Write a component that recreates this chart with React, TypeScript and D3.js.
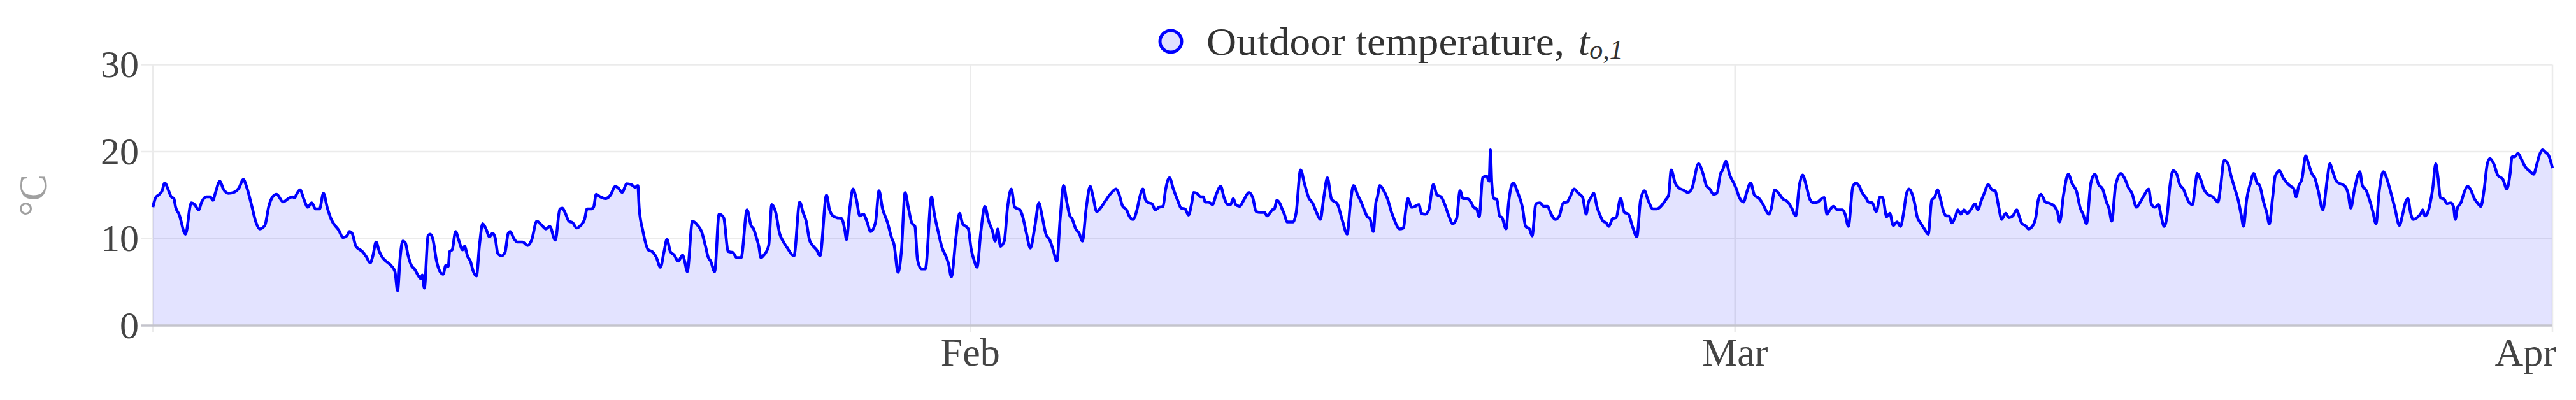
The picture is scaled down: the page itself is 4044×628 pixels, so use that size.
import React, { useEffect } from "react";
import * as d3 from "d3";

// ---- data ----
const START_UTC = Date.UTC(2020, 0, 1);
const END_UTC = Date.UTC(2020, 3, 1);
const Y_TICKS = [0, 10, 20, 30];
const X_GRID_DATES = [Date.UTC(2020, 0, 1), Date.UTC(2020, 1, 1), Date.UTC(2020, 2, 1), Date.UTC(2020, 3, 1)];
const X_LABEL_DATES = [Date.UTC(2020, 1, 1), Date.UTC(2020, 2, 1), Date.UTC(2020, 3, 1)];
const Y_TITLE = "°C";
const LEGEND_NAME = "Outdoor temperature,";
const LEGEND_SYMBOL = "t";
const LEGEND_SUB = "o,1";

// [hours since 2020-01-01 00:00, outdoor temperature °C]
const READINGS: [number, number][] = [
  [0, 13.6], [2.5, 14.7], [6.0, 15.1], [8.4, 15.5], [10.8, 16.4], [14.3, 15.5], [16.7, 14.8], [19.1, 14.6], [20.7, 13.6], [23.8, 12.8],
  [29.7, 10.5], [34.9, 14.1], [38.0, 13.9], [41.6, 13.3], [44.4, 14.2], [48.7, 14.8], [52.2, 14.8], [54.6, 14.4], [57.0, 15.3], [61.0, 16.6],
  [64.1, 15.7], [68.8, 15.2], [73.5, 15.3], [78.3, 15.8], [82.3, 16.8], [85.4, 15.9], [90.1, 13.7], [93.7, 11.9], [97.2, 11.1], [101.9, 11.5],
  [105.5, 13.7], [109.0, 14.8], [112.6, 15.1], [118.5, 14.2], [123.3, 14.6], [126.8, 14.8], [129.2, 14.7], [130.4, 15.0], [133.9, 15.6], [137.5, 14.5],
  [141.0, 13.6], [144.6, 14.1], [148.1, 13.4], [151.7, 13.4], [155.2, 15.2], [158.8, 13.5], [162.3, 12.2], [169.4, 10.9], [173.0, 10.1], [176.5, 10.3],
  [178.9, 10.8], [181.3, 10.6], [184.8, 9.1], [190.7, 8.5], [194.3, 7.9], [197.8, 7.2], [200.2, 8.0], [203.1, 9.6], [206.1, 8.5], [208.5, 7.9],
  [212.1, 7.4], [216.8, 6.9], [220.3, 6.2], [222.7, 4.0], [225.1, 7.9], [227.4, 9.7], [229.8, 9.5], [232.2, 8.1], [235.7, 6.8], [238.1, 6.5],
  [241.7, 5.7], [244.0, 5.4], [245.2, 5.8], [247.1, 4.3], [250.4, 10.3], [252.3, 10.5], [254.7, 10.0], [258.2, 7.4], [261.8, 6.1], [264.2, 5.9],
  [266.5, 6.9], [268.9, 6.8], [270.1, 8.5], [272.4, 8.7], [275.5, 10.8], [278.4, 9.8], [281.9, 8.7], [283.6, 9.1], [286.6, 7.9], [289.0, 7.4],
  [291.4, 6.3], [294.5, 5.7], [297.3, 9.3], [300.1, 11.7], [303.2, 11.1], [306.3, 10.2], [309.1, 10.6], [311.5, 10.1], [313.9, 8.3], [317.4, 8.0],
  [320.5, 8.4], [323.4, 10.6], [325.3, 10.8], [328.1, 10.1], [331.6, 9.6], [336.4, 9.6], [341.1, 9.2], [344.7, 9.8], [349.4, 12.0], [354.1, 11.5],
  [357.7, 11.1], [361.2, 11.4], [366.3, 9.8], [370.4, 13.4], [372.7, 13.5], [375.1, 13.0], [378.6, 12.0], [382.2, 11.8], [385.7, 11.2], [389.3, 11.5],
  [392.9, 12.2], [395.2, 13.4], [398.8, 13.4], [401.1, 13.6], [403.5, 15.1], [407.1, 14.8], [411.8, 14.6], [416.5, 15.0], [420.8, 16.0], [423.6, 15.8],
  [427.2, 15.3], [431.2, 16.3], [435.5, 16.2], [439.0, 15.9], [441.4, 16.1], [442.6, 13.5], [446.1, 10.8], [450.9, 8.7], [454.4, 8.5], [458.0, 7.9],
  [462.0, 6.7], [465.1, 8.4], [467.9, 9.9], [471.0, 8.5], [474.5, 8.1], [478.1, 7.4], [482.1, 8.1], [484.0, 7.4], [486.4, 6.2], [491.1, 12.0],
  [495.9, 11.5], [499.4, 10.8], [503.0, 9.1], [505.3, 7.9], [507.7, 7.4], [511.3, 6.2], [515.3, 12.8], [519.5, 12.4], [523.6, 8.5], [527.8, 8.4],
  [531.4, 7.8], [535.4, 7.8], [540.8, 13.3], [544.4, 11.5], [546.8, 11.1], [549.1, 10.2], [551.5, 9.1], [553.4, 7.8], [556.2, 8.1], [560.5, 9.2],
  [563.3, 13.9], [566.9, 13.0], [570.4, 10.6], [574.0, 9.6], [577.5, 8.9], [583.5, 8.0], [588.7, 14.2], [591.8, 13.0], [594.6, 12.0], [597.7, 9.8],
  [601.2, 9.1], [604.1, 8.7], [607.2, 8.0], [613.1, 15.0], [615.9, 13.3], [619.0, 12.6], [622.5, 12.4], [626.8, 12.3], [629.6, 11.1], [631.3, 9.9],
  [634.4, 13.6], [637.2, 15.7], [640.3, 14.5], [643.4, 12.6], [646.7, 12.8], [649.8, 12.0], [653.3, 10.8], [657.6, 11.8], [660.9, 15.5], [664.0, 13.5],
  [668.7, 11.8], [672.3, 10.1], [674.6, 9.3], [678.2, 6.1], [681.3, 8.6], [684.6, 15.3], [687.7, 13.5], [690.7, 11.8], [693.6, 11.4], [695.9, 7.6],
  [699.5, 6.5], [703.1, 6.5], [708.7, 14.8], [711.3, 12.8], [714.9, 10.7], [718.4, 8.9], [722.0, 7.9], [724.4, 7.0], [726.7, 5.6], [731.1, 10.3],
  [734.2, 12.9], [737.0, 11.7], [739.9, 11.4], [742.2, 11.1], [744.6, 8.9], [747.7, 7.4], [750.1, 6.7], [753.6, 10.8], [757.2, 13.7], [760.7, 12.0],
  [764.3, 10.8], [766.6, 9.7], [769.0, 11.1], [771.4, 9.1], [774.9, 9.7], [777.8, 13.5], [781.3, 15.7], [784.4, 13.6], [789.1, 13.3], [791.5, 12.6],
  [795.1, 10.6], [798.6, 8.9], [802.9, 11.5], [806.4, 14.1], [809.3, 12.6], [812.8, 10.5], [816.4, 9.8], [819.4, 8.7], [822.8, 7.4], [825.8, 12.3],
  [828.9, 16.1], [831.8, 14.2], [834.6, 12.6], [836.5, 12.3], [840.0, 11.1], [843.1, 10.6], [846.0, 9.7], [849.5, 13.5], [853.1, 16.0], [855.9, 14.7],
  [859.0, 13.1], [862.5, 13.5], [867.3, 14.4], [872.0, 15.2], [876.8, 15.7], [879.1, 15.2], [882.7, 13.7], [886.2, 13.3], [888.6, 12.6], [892.1, 12.2],
  [895.7, 13.3], [898.1, 14.7], [901.1, 15.7], [903.3, 14.5], [906.3, 14.1], [909.4, 14.0], [912.3, 13.3], [915.8, 13.6], [919.4, 13.7], [921.7, 15.6],
  [925.3, 17.0], [928.8, 15.7], [932.4, 14.5], [935.9, 13.5], [939.5, 13.4], [942.6, 12.7], [945.4, 14.0], [947.3, 15.3], [950.2, 15.2], [953.7, 14.8],
  [956.1, 14.8], [957.7, 14.2], [960.8, 14.2], [964.4, 13.9], [967.9, 15.1], [971.9, 16.0], [975.0, 14.7], [978.6, 13.9], [980.9, 13.9], [983.3, 14.6],
  [985.7, 13.9], [989.2, 13.7], [992.8, 14.4], [997.5, 15.3], [1001.1, 14.7], [1004.1, 13.1], [1008.2, 13.0], [1011.7, 13.0], [1014.1, 12.6], [1016.5, 12.9],
  [1018.8, 13.3], [1020.7, 13.4], [1023.1, 14.4], [1025.9, 14.0], [1027.8, 13.4], [1029.5, 12.9], [1032.6, 11.9], [1037.8, 11.9], [1040.6, 13.0], [1044.6, 17.9],
  [1048.4, 16.2], [1052.0, 14.7], [1055.5, 14.1], [1059.1, 13.0], [1062.6, 12.2], [1065.7, 14.7], [1069.0, 17.0], [1072.8, 14.5], [1078.0, 14.0], [1082.8, 12.0],
  [1087.0, 10.5], [1089.9, 14.0], [1092.7, 16.1], [1096.6, 15.0], [1099.7, 14.2], [1102.5, 13.3], [1105.4, 12.5], [1107.7, 12.3], [1110.8, 10.8], [1113.2, 14.2],
  [1114.4, 14.7], [1116.7, 16.1], [1120.3, 15.5], [1123.9, 14.5], [1127.4, 13.0], [1129.8, 12.2], [1132.1, 11.5], [1134.5, 11.1], [1138.1, 11.2], [1140.4, 13.3],
  [1142.3, 14.6], [1145.6, 13.6], [1148.7, 13.7], [1152.3, 13.9], [1154.6, 12.9], [1158.2, 12.8], [1161.3, 13.3], [1165.3, 16.2], [1168.8, 15.0], [1172.4, 14.8],
  [1175.9, 13.9], [1179.5, 12.6], [1183.1, 11.7], [1186.6, 12.3], [1189.7, 15.5], [1192.5, 14.6], [1196.1, 14.6], [1199.6, 14.2], [1202.0, 13.6], [1204.8, 13.4],
  [1207.2, 12.5], [1210.3, 17.0], [1213.8, 17.2], [1216.2, 16.6], [1217.4, 20.2], [1218.6, 16.4], [1220.5, 14.6], [1223.3, 14.5], [1225.7, 12.6], [1228.0, 12.4],
  [1231.6, 11.1], [1234.0, 14.2], [1238.0, 16.4], [1242.2, 15.3], [1246.5, 13.6], [1249.4, 11.4], [1252.9, 11.1], [1255.3, 10.3], [1258.8, 14.0], [1262.4, 14.1],
  [1265.9, 13.7], [1269.5, 13.7], [1271.9, 13.0], [1276.6, 12.2], [1280.1, 12.6], [1283.7, 14.1], [1287.2, 14.2], [1289.6, 14.7], [1293.6, 15.7], [1296.7, 15.3],
  [1301.4, 14.7], [1304.5, 12.8], [1306.7, 14.2], [1308.5, 14.6], [1311.4, 15.2], [1314.5, 13.6], [1316.8, 12.8], [1319.9, 12.0], [1322.8, 11.8], [1325.1, 11.4],
  [1328.7, 12.3], [1331.8, 12.4], [1335.8, 14.6], [1339.3, 13.0], [1342.9, 12.8], [1346.9, 11.3], [1350.7, 10.2], [1354.0, 14.4], [1357.6, 15.5], [1360.6, 14.5],
  [1365.4, 13.4], [1368.9, 13.4], [1372.5, 13.7], [1377.2, 14.5], [1379.6, 15.0], [1381.9, 17.9], [1385.5, 16.4], [1389.1, 15.8], [1392.6, 15.6], [1397.3, 15.3],
  [1400.9, 15.8], [1406.8, 18.6], [1410.8, 17.5], [1413.9, 16.1], [1417.0, 15.7], [1420.3, 15.1], [1423.4, 15.2], [1426.9, 17.5], [1428.8, 17.9], [1431.7, 18.9],
  [1435.2, 17.3], [1438.8, 16.4], [1441.2, 15.7], [1444.0, 14.7], [1447.8, 14.2], [1450.6, 15.3], [1454.2, 16.4], [1457.7, 15.0], [1462.0, 14.6], [1465.6, 13.9],
  [1467.9, 13.3], [1470.8, 12.8], [1473.1, 13.5], [1476.2, 15.6], [1479.8, 15.2], [1483.3, 14.6], [1488.1, 14.2], [1491.6, 13.5], [1495.2, 12.6], [1498.7, 16.2],
  [1501.6, 17.3], [1504.6, 16.2], [1508.2, 14.5], [1511.7, 14.1], [1515.3, 14.2], [1518.9, 14.6], [1521.2, 14.7], [1523.6, 12.8], [1526.4, 13.3], [1529.5, 13.7],
  [1533.1, 13.3], [1537.8, 13.3], [1540.2, 12.8], [1543.2, 11.4], [1547.3, 16.0], [1550.3, 16.4], [1553.2, 16.0], [1555.6, 15.3], [1559.1, 14.7], [1561.5, 14.2],
  [1565.0, 14.1], [1568.6, 13.1], [1572.1, 14.8], [1574.5, 14.7], [1578.0, 12.5], [1580.9, 12.9], [1584.0, 11.5], [1587.5, 11.9], [1590.6, 11.4], [1593.4, 12.9],
  [1595.8, 15.0], [1598.2, 15.7], [1601.0, 15.2], [1603.4, 14.1], [1605.8, 12.5], [1608.8, 11.8], [1612.4, 11.1], [1615.9, 10.5], [1619.0, 14.4], [1621.9, 14.8],
  [1624.2, 15.6], [1627.1, 14.5], [1630.1, 13.0], [1632.5, 12.6], [1634.9, 12.6], [1637.2, 11.8], [1640.8, 12.6], [1642.7, 13.3], [1645.5, 12.8], [1648.4, 13.3],
  [1651.5, 12.9], [1655.0, 13.4], [1658.6, 14.0], [1660.9, 13.3], [1664.5, 14.5], [1666.8, 15.2], [1670.4, 16.2], [1673.9, 15.6], [1676.8, 15.5], [1679.9, 13.7],
  [1682.7, 12.2], [1686.3, 12.9], [1689.3, 12.4], [1692.9, 12.6], [1696.4, 13.3], [1698.8, 12.5], [1701.2, 11.7], [1704.2, 11.5], [1707.1, 11.1], [1710.6, 11.4],
  [1713.7, 12.4], [1716.1, 14.5], [1718.5, 15.1], [1722.5, 14.2], [1727.2, 14.0], [1730.8, 13.7], [1733.6, 13.0], [1735.5, 11.9], [1739.1, 15.1], [1743.3, 17.4],
  [1746.9, 16.3], [1750.9, 15.4], [1754.0, 13.6], [1756.8, 12.8], [1759.9, 11.7], [1763.9, 16.4], [1767.5, 17.4], [1771.0, 16.2], [1774.6, 15.7], [1778.1, 14.2],
  [1780.5, 13.4], [1782.9, 12.0], [1786.4, 16.1], [1791.2, 17.5], [1794.7, 16.9], [1798.3, 15.8], [1801.3, 15.2], [1805.4, 13.6], [1808.9, 14.2], [1812.5, 15.0],
  [1816.5, 15.7], [1818.9, 14.0], [1822.0, 13.6], [1825.5, 13.9], [1827.5, 12.8], [1830.6, 11.4], [1833.4, 12.8], [1835.8, 16.0], [1838.6, 17.8], [1841.7, 17.5],
  [1844.8, 16.2], [1848.1, 15.7], [1851.2, 14.7], [1853.6, 14.1], [1856.4, 13.9], [1859.0, 16.2], [1860.7, 17.5], [1863.8, 16.8], [1866.6, 15.7], [1870.1, 15.1],
  [1874.9, 14.8], [1879.6, 14.2], [1882.0, 16.0], [1885.1, 19.0], [1888.4, 18.7], [1891.5, 17.2], [1895.0, 15.7], [1897.8, 14.5], [1900.9, 12.6], [1902.8, 11.4],
  [1905.7, 14.5], [1909.2, 16.4], [1912.1, 17.5], [1915.1, 16.4], [1917.5, 16.1], [1921.1, 14.2], [1923.9, 13.0], [1926.3, 11.7], [1929.3, 14.7], [1931.7, 17.2],
  [1935.7, 17.8], [1938.8, 17.0], [1942.4, 16.4], [1945.9, 16.0], [1948.3, 15.8], [1950.7, 14.8], [1953.0, 16.0], [1956.1, 16.9], [1959.4, 19.5], [1962.5, 18.4],
  [1964.9, 17.5], [1967.9, 16.9], [1970.8, 15.5], [1975.0, 13.3], [1979.1, 16.9], [1981.4, 18.6], [1983.8, 17.8], [1987.4, 16.6], [1990.9, 16.3], [1994.5, 16.1],
  [1998.0, 15.2], [2000.4, 13.5], [2003.9, 15.7], [2008.7, 17.7], [2011.0, 16.1], [2014.6, 15.5], [2018.1, 14.2], [2020.5, 13.1], [2023.4, 11.7], [2026.4, 15.5],
  [2030.0, 17.7], [2033.5, 16.8], [2037.1, 15.2], [2040.6, 13.5], [2044.7, 11.5], [2047.7, 12.8], [2050.1, 14.1], [2052.5, 14.6], [2054.8, 13.0], [2057.2, 12.2],
  [2060.8, 12.4], [2064.3, 12.9], [2066.0, 13.3], [2067.9, 12.6], [2070.2, 12.9], [2072.6, 14.0], [2075.0, 15.7], [2077.8, 18.6], [2079.7, 17.2], [2082.1, 14.7],
  [2085.6, 14.5], [2088.0, 14.0], [2091.6, 14.1], [2093.9, 13.7], [2095.6, 12.2], [2097.5, 13.5], [2101.0, 14.2], [2103.4, 15.2], [2106.9, 16.0], [2110.0, 15.5],
  [2112.9, 14.6], [2116.4, 14.0], [2118.8, 13.7], [2121.9, 15.7], [2124.7, 18.6], [2127.1, 19.2], [2130.6, 18.6], [2134.2, 17.3], [2138.9, 16.8], [2142.5, 15.7],
  [2145.5, 17.5], [2147.2, 19.4], [2149.6, 19.4], [2152.6, 19.8], [2155.5, 19.2], [2159.0, 18.3], [2163.8, 17.7], [2166.8, 17.4], [2169.7, 18.5], [2171.6, 19.4],
  [2174.9, 20.2], [2178.0, 19.9], [2180.4, 19.6], [2183.0, 18.6], [2184.0, 18.1],
];

const W = 4044;
const H = 628;
const FONT = "'Liberation Serif', 'DejaVu Serif', serif";

export default function App() {
  useEffect(() => {
    document.body.style.margin = "0";
  }, []);

  const x = d3.scaleUtc().domain([new Date(START_UTC), new Date(END_UTC)]).range([240, 4007]);
  const y = d3.scaleLinear().domain([0, 30]).range([511, 101.5]);

  const pts = READINGS.map(([h, t]) => ({ date: new Date(START_UTC + h * 3600 * 1000), t }));

  const area = d3
    .area<{ date: Date; t: number }>()
    .x((d) => x(d.date))
    .y0(y(0))
    .y1((d) => y(d.t))
    .curve(d3.curveMonotoneX);
  const line = d3
    .line<{ date: Date; t: number }>()
    .x((d) => x(d.date))
    .y((d) => y(d.t))
    .curve(d3.curveMonotoneX);

  const fmt = d3.utcFormat("%b");
  const x1 = x.range()[1];

  return (
    <svg width={W} height={H} style={{ position: "absolute", left: 0, top: 0, background: "#fff" }}>
      {/* gridlines */}
      {Y_TICKS.filter((v) => v !== 0).map((v) => (
        <line key={"gy" + v} x1={222} x2={x1} y1={y(v)} y2={y(v)} stroke="#ebebeb" strokeWidth={2.5} />
      ))}
      {X_GRID_DATES.map((d) => (
        <line key={"gx" + d} x1={x(new Date(d))} x2={x(new Date(d))} y1={y(30)} y2={y(0) + 10} stroke="#ebebeb" strokeWidth={2.5} />
      ))}

      {/* area + line */}
      <path d={area(pts) || ""} fill="rgba(0,0,255,0.11)" stroke="none" />
      <path d={line(pts) || ""} fill="none" stroke="#0000ff" strokeWidth={4.5} strokeLinejoin="round" />

      {/* zero line */}
      <line x1={222} x2={x1} y1={y(0)} y2={y(0)} stroke="#c4c4cc" strokeWidth={3.5} />

      {/* y tick labels */}
      {Y_TICKS.map((v) => (
        <text key={"ty" + v} x={218} y={y(v)} dy="0.33em" textAnchor="end" fontFamily={FONT} fontSize={60} fill="#444">
          {v}
        </text>
      ))}

      {/* x tick labels */}
      {X_LABEL_DATES.map((d, i) => {
        const last = i === X_LABEL_DATES.length - 1;
        return (
          <text
            key={"tx" + d}
            x={x(new Date(d)) + (last ? 6 : 0)}
            y={574}
            textAnchor={last ? "end" : "middle"}
            fontFamily={FONT}
            fontSize={62}
            fill="#444"
          >
            {fmt(new Date(d))}
          </text>
        );
      })}

      {/* y axis title */}
      <text
        transform={`translate(${72},${307}) rotate(-90)`}
        textAnchor="middle"
        fontFamily={FONT}
        fontSize={62}
        fill="#a0a0a0"
      >
        {Y_TITLE}
      </text>

      {/* legend */}
      <circle cx={1838} cy={65} r={17} fill="rgba(0,0,255,0.12)" stroke="#0000ff" strokeWidth={5} />
      <text x={1894} y={86} fontFamily={FONT} fontSize={62} fill="#333" textLength={562} lengthAdjust="spacingAndGlyphs">
        {LEGEND_NAME}
      </text>
      <text x={2478} y={86} fontFamily={FONT} fontSize={62} fill="#333" fontStyle="italic">
        {LEGEND_SYMBOL}
        <tspan fontSize={42} dy={6}>
          {LEGEND_SUB}
        </tspan>
      </text>
    </svg>
  );
}
